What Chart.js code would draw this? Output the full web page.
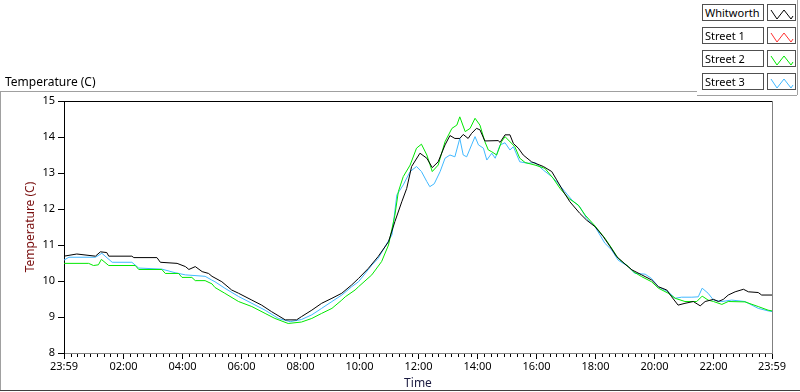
<!DOCTYPE html>
<html>
<head>
<meta charset="utf-8">
<script src="https://cdn.jsdelivr.net/npm/chart.js@4.4.1/dist/chart.umd.min.js"></script>
<style>
  body { margin: 0; width: 800px; height: 392px; background: #fff; overflow: hidden; position: relative; font-family: "Noto Sans", sans-serif; }
  #chart { position: absolute; left: 0; top: 0; }
  .title { position: absolute; left: 5px; top: 73px; font-size: 12px; color: #000; }
  .frame-top { position: absolute; left: 0; top: 91px; width: 697px; height: 0; border-top: 1px solid #a0a0a0; }
  .frame-left { position: absolute; left: 0; top: 91px; width: 0; height: 300px; border-left: 1px solid #a0a0a0; }
  .frame-bottom { position: absolute; left: 0; top: 390px; width: 800px; height: 0; border-top: 1px solid #404040; }
  .panel-right { position: absolute; left: 797px; top: 0; width: 0; height: 95px; border-left: 1px solid #a0a0a0; }
  .panel-bottom { position: absolute; left: 697px; top: 95px; width: 100px; height: 0; border-top: 1px solid #a0a0a0; }
  .leg { position: absolute; left: 702px; height: 16px; }
  .leg .lbl { position: absolute; left: 0; top: 0; width: 58px; height: 15px; border: 1px solid #505050; font-size: 11px; line-height: 15px; padding-left: 2px; box-sizing: content-box; background: #fff; white-space: nowrap; overflow: hidden; }
  .leg .ico { position: absolute; left: 65px; top: 0; width: 27px; height: 15px; border: 1px solid #505050; background: #fff; }
</style>
</head>
<body>
<canvas id="chart" width="800" height="392"></canvas>
<div class="title">Temperature (C)</div>
<div class="frame-top"></div>
<div class="frame-left"></div>
<div class="frame-bottom"></div>
<div class="panel-right"></div>
<div class="panel-bottom"></div>
<div id="legend"></div>
<script>
// Minutes after 23:59 (start of the record) and temperature in C
const whitworthTime = [0, 26, 64, 74, 87, 91, 138, 142, 189, 196, 230, 247, 254, 267, 281, 294, 301, 321, 341, 355, 382, 402, 422, 450, 473, 483, 504, 524, 545, 565, 585, 599, 619, 639, 660, 673, 687, 697, 707, 724, 738, 749, 761, 775, 785, 795, 805, 812, 822, 829, 839, 846, 856, 883, 887, 897, 907, 914, 924, 934, 951, 975, 992, 1002, 1016, 1029, 1049, 1063, 1080, 1097, 1111, 1124, 1141, 1155, 1175, 1195, 1209, 1226, 1236, 1249, 1263, 1280, 1294, 1304, 1321, 1331, 1341, 1351, 1365, 1382, 1392, 1412, 1419, 1440];
const whitworthTemp = [10.69, 10.75, 10.69, 10.81, 10.79, 10.69, 10.69, 10.65, 10.65, 10.52, 10.49, 10.40, 10.32, 10.40, 10.26, 10.21, 10.13, 9.98, 9.75, 9.66, 9.47, 9.33, 9.15, 8.92, 8.92, 9.01, 9.19, 9.38, 9.52, 9.66, 9.89, 10.07, 10.35, 10.68, 11.09, 11.65, 12.20, 12.57, 13.18, 13.55, 13.41, 13.15, 13.31, 13.78, 14.04, 13.96, 13.96, 14.07, 13.96, 14.10, 14.24, 14.20, 13.89, 13.90, 13.85, 14.06, 14.06, 13.82, 13.69, 13.50, 13.31, 13.18, 13.04, 12.81, 12.48, 12.20, 11.88, 11.69, 11.51, 11.23, 10.95, 10.68, 10.47, 10.31, 10.17, 10.03, 9.84, 9.75, 9.56, 9.33, 9.38, 9.43, 9.31, 9.43, 9.49, 9.43, 9.49, 9.61, 9.70, 9.77, 9.70, 9.68, 9.61, 9.61];

const street1Time = [];
const street1Temp = [];

const street2Time = [0, 50, 60, 70, 76, 91, 145, 152, 199, 206, 233, 240, 260, 267, 287, 301, 307, 327, 355, 382, 409, 429, 456, 483, 504, 524, 545, 565, 572, 592, 599, 626, 646, 660, 673, 680, 690, 704, 717, 727, 738, 749, 761, 775, 789, 799, 805, 816, 826, 836, 846, 856, 863, 870, 880, 890, 897, 917, 927, 938, 958, 978, 995, 1009, 1026, 1046, 1060, 1080, 1100, 1114, 1127, 1148, 1158, 1175, 1195, 1209, 1229, 1243, 1263, 1287, 1298, 1310, 1321, 1338, 1351, 1385, 1412, 1432, 1440];
const street2Temp = [10.49, 10.49, 10.43, 10.45, 10.60, 10.43, 10.43, 10.32, 10.32, 10.21, 10.21, 10.10, 10.10, 10.01, 10.01, 9.92, 9.82, 9.66, 9.43, 9.29, 9.10, 8.96, 8.82, 8.86, 8.96, 9.10, 9.24, 9.47, 9.56, 9.75, 9.84, 10.17, 10.54, 11.00, 11.83, 12.48, 12.90, 13.22, 13.69, 13.80, 13.50, 13.04, 13.22, 13.87, 14.24, 14.33, 14.56, 14.15, 14.24, 14.52, 14.33, 13.87, 13.64, 13.59, 13.50, 13.87, 14.01, 13.73, 13.41, 13.29, 13.22, 13.13, 12.85, 12.57, 12.30, 12.11, 11.83, 11.53, 11.19, 10.91, 10.63, 10.40, 10.26, 10.12, 9.98, 9.80, 9.66, 9.52, 9.43, 9.43, 9.58, 9.47, 9.43, 9.35, 9.43, 9.42, 9.29, 9.19, 9.17];

const street3Time = [0, 10, 64, 77, 98, 138, 152, 199, 226, 247, 287, 300, 307, 327, 355, 382, 409, 436, 460, 483, 504, 524, 545, 565, 585, 599, 626, 639, 667, 677, 690, 704, 717, 727, 738, 744, 753, 765, 775, 785, 795, 805, 812, 819, 829, 836, 843, 853, 860, 870, 877, 887, 897, 907, 914, 927, 944, 958, 975, 992, 1005, 1019, 1033, 1049, 1063, 1080, 1100, 1114, 1127, 1148, 1161, 1182, 1195, 1209, 1229, 1243, 1256, 1277, 1290, 1298, 1310, 1321, 1338, 1358, 1385, 1412, 1432, 1440];
const street3Temp = [10.58, 10.66, 10.66, 10.77, 10.52, 10.52, 10.36, 10.33, 10.23, 10.17, 10.13, 10.03, 9.98, 9.80, 9.57, 9.38, 9.19, 8.96, 8.87, 8.93, 9.06, 9.24, 9.43, 9.61, 9.84, 9.98, 10.44, 10.63, 11.28, 12.39, 12.67, 13.04, 13.18, 13.04, 12.76, 12.62, 12.70, 13.04, 13.41, 13.50, 13.45, 13.96, 13.50, 13.45, 13.78, 14.01, 13.78, 13.69, 13.36, 13.55, 13.41, 13.78, 13.84, 13.64, 13.73, 13.31, 13.27, 13.29, 13.08, 12.90, 12.71, 12.48, 12.25, 12.06, 11.74, 11.51, 11.05, 10.86, 10.58, 10.40, 10.21, 10.19, 10.07, 9.84, 9.70, 9.52, 9.55, 9.55, 9.56, 9.80, 9.66, 9.47, 9.43, 9.47, 9.43, 9.24, 9.17, 9.15];

// Axis ticks (minutes after 23:59)
const xTickValues = [0, 121, 241, 361, 481, 601, 721, 841, 961, 1081, 1201, 1321, 1440];
const yTickValues = [8, 9, 10, 11, 12, 13, 14, 15];

const seriesNames = ['Whitworth', 'Street 1', 'Street 2', 'Street 3'];
const seriesColors = ['#000000', '#ff3030', '#00e800', '#40b8ff'];

function toPoints(times, temps) {
  return times.map((t, i) => ({ x: t, y: temps[i] }));
}

function clockLabel(t) {
  const m = (1439 + Math.round(t)) % 1440;
  const hh = String(Math.floor(m / 60)).padStart(2, '0');
  const mm = String(m % 60).padStart(2, '0');
  return hh + ':' + mm;
}

// legend, LabVIEW style boxes
let legendHTML = '';
seriesNames.forEach((name, i) => {
  legendHTML += `
    <div class="leg" style="top:${4 + i * 23}px">
      <div class="lbl">${name}</div>
      <div class="ico"><svg width="27" height="15"><polyline points="3,3 9,12 16,3 23,12 25,9" fill="none" stroke="${seriesColors[i]}" stroke-width="1"/></svg></div>
    </div>`;
});
document.getElementById('legend').innerHTML = legendHTML;

// top/right frame of the plot area plus minor x ticks
const framePlugin = {
  id: 'frame',
  afterDraw(chart) {
    const { ctx, chartArea: a, scales: { x } } = chart;
    ctx.save();
    ctx.lineWidth = 1;
    ctx.strokeStyle = '#000';
    ctx.beginPath();
    ctx.moveTo(a.left, a.top + 0.5);
    ctx.lineTo(a.right, a.top + 0.5);
    ctx.stroke();
    ctx.strokeStyle = '#808080';
    ctx.beginPath();
    ctx.moveTo(a.right + 0.5, a.top);
    ctx.lineTo(a.right + 0.5, a.bottom);
    ctx.stroke();
    // minor ticks
    ctx.strokeStyle = '#000';
    ctx.beginPath();
    for (let k = 0; k < xTickValues.length - 1; k++) {
      const v0 = xTickValues[k], v1 = xTickValues[k + 1];
      for (let j = 1; j < 9; j++) {
        const px = Math.round(x.getPixelForValue(v0 + (v1 - v0) * j / 9)) + 0.5;
        ctx.moveTo(px, a.bottom + 1);
        ctx.lineTo(px, a.bottom + 4);
      }
    }
    ctx.stroke();
    ctx.restore();
  }
};

const ctx = document.getElementById('chart').getContext('2d');
new Chart(ctx, {
  type: 'line',
  data: {
    datasets: [
      { label: 'Whitworth', data: toPoints(whitworthTime, whitworthTemp), borderColor: seriesColors[0] },
      { label: 'Street 1', data: toPoints(street1Time, street1Temp), borderColor: seriesColors[1] },
      { label: 'Street 2', data: toPoints(street2Time, street2Temp), borderColor: seriesColors[2] },
      { label: 'Street 3', data: toPoints(street3Time, street3Temp), borderColor: seriesColors[3] }
    ]
  },
  options: {
    responsive: false,
    animation: false,
    layout: { padding: { left: 0, right: 28, top: 101, bottom: 0 } },
    elements: { point: { radius: 0 }, line: { borderWidth: 1, tension: 0 } },
    plugins: { legend: { display: false }, tooltip: { enabled: false } },
    scales: {
      x: {
        type: 'linear',
        min: 0,
        max: 1440,
        afterBuildTicks: scale => { scale.ticks = xTickValues.map(v => ({ value: v })); },
        afterFit: scale => { scale.height = 39; },
        ticks: {
          autoSkip: false,
          maxRotation: 0,
          color: '#000',
          padding: 1,
          font: { family: 'Noto Sans', size: 11 },
          callback: v => clockLabel(v)
        },
        grid: { drawOnChartArea: false, drawTicks: true, tickLength: 6, color: '#000' },
        border: { color: '#808080' },
        title: { display: true, text: 'Time', color: '#1a1a40', font: { family: 'Noto Sans', size: 12 }, padding: { top: 0, bottom: 1 } }
      },
      y: {
        min: 8,
        max: 15,
        afterBuildTicks: scale => { scale.ticks = yTickValues.map(v => ({ value: v })); },
        afterFit: scale => { scale.width = 64; },
        ticks: { color: '#000', padding: 3, font: { family: 'Noto Sans', size: 11 } },
        grid: { drawOnChartArea: false, drawTicks: true, tickLength: 6, color: '#000' },
        border: { color: '#000' },
        title: { display: true, text: 'Temperature (C)', color: '#7a1010', font: { family: 'Noto Sans', size: 12 }, padding: { top: 23, bottom: 0 } }
      }
    }
  },
  plugins: [framePlugin]
});
</script>
</body>
</html>
